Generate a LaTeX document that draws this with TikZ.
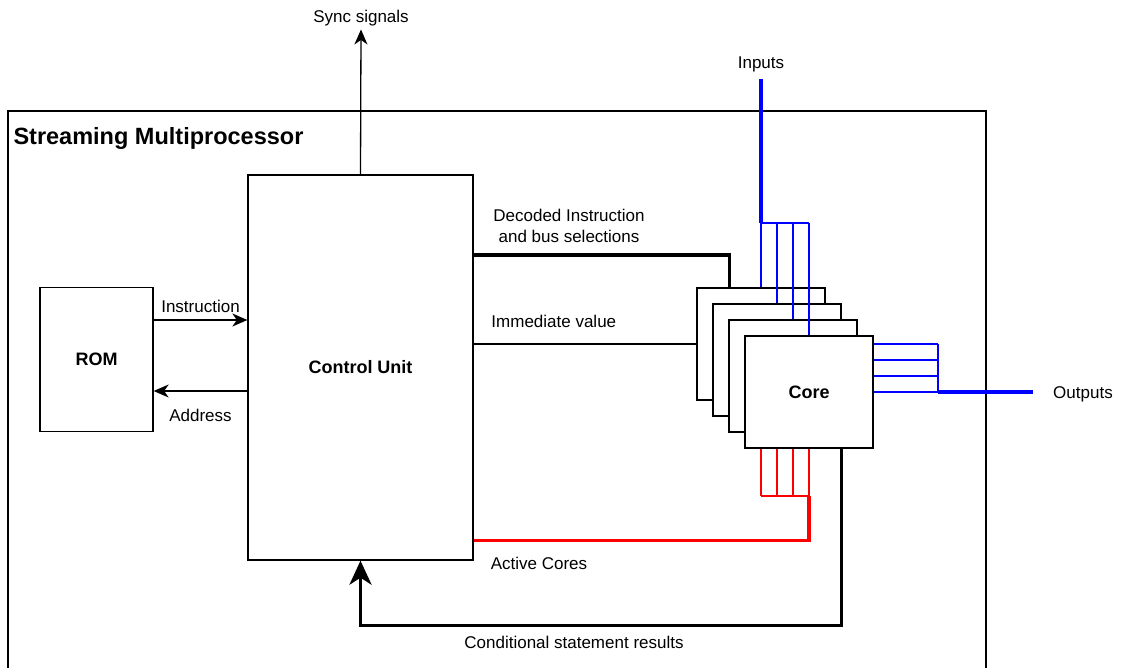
\documentclass[tikz,border=0pt]{standalone}
\usepackage{fontspec}
\setmainfont{Liberation Sans}
\usetikzlibrary{
    arrows.meta,
    positioning,
    calc
}

\begin{document}
\begin{tikzpicture}[
    x=1pt,
    y=-1pt,
    every node/.style={
        font=\fontsize{17pt}{21pt}\selectfont
    },
    block/.style={
        draw=black,
        line width=1.3pt,
        fill=white,
        font=\fontsize{18pt}{22pt}\selectfont\bfseries
    },
    corebox/.style={
        block,
        minimum width=128pt,
        minimum height=112pt
    },
    thinwire/.style={
        line width=1.3pt
    },
    ctrlwire/.style={
        line width=3.5pt
    },
    sigarrow/.style={
        thinwire,
        -{Stealth[length=15pt,width=13pt,inset=4.5pt]}
    },
    bluewire/.style={
        blue,
        line width=1.3pt
    },
    redwire/.style={
        red,
        line width=1.3pt
    }
]

    \useasboundingbox (0,0) rectangle (1121,667);
    \clip (0,0) rectangle (1121,667);

    % Streaming multiprocessor frame
    \draw[thinwire] (8,111) rectangle (986,700);

    \node[
        anchor=west,
        font=\fontsize{23.5pt}{28pt}\selectfont\bfseries
    ] (title) at (10,138)
        {Streaming Multiprocessor};

    % Main blocks
    \node[
        block,
        minimum width=225pt,
        minimum height=385pt
    ] (cu) at (360.5,367.5)
        {Control Unit};

    \node[
        block,
        minimum width=113pt,
        minimum height=144pt
    ] (rom) at (96.5,359.5)
        {ROM};

    % Outer labels
    \node (sync) at (361,18) {Sync signals};
    \node (inlbl) at (761,64) {Inputs};
    \node (outlbl) at (1083,394) {Outputs};

    % Bus junctions
    \coordinate (inbus) at (761,223);
    \coordinate (actbus) at (809,496);
    \coordinate (outbus) at (938,392);

    % Stacked cores with their bus wires
    \foreach \i in {1,...,4} {
        \node[corebox] (core\i) at ({745+16*\i},{328+16*\i})
            {\ifnum\i=4 Core\fi};
        \draw[bluewire] (core\i.north) -- (core\i.north |- inbus);
        \draw[redwire] (core\i.south) -- (core\i.south |- actbus);
        \draw[bluewire] (core\i.east) -- (core\i.east -| outbus);
    }

    % Input bus
    \draw[bluewire] (core1.north |- inbus) -- (core4.north |- inbus);
    \draw[
        blue,
        line width=4pt,
        shorten <=4pt
    ]
        (inlbl.south) -- (inbus);

    % Output bus
    \draw[bluewire] (outbus |- core1.east) -- (outbus |- core4.east);
    \draw[
        blue,
        line width=4pt
    ]
        (outbus |- core4.east)
        -- ([xshift=-17pt]outlbl.west |- core4.east);

    % ROM <-> control unit
    \draw[sigarrow]
        (rom.east |- 0,320) -- (cu.west |- 0,320)
        node[midway, above=3pt] (instrlbl) {Instruction};

    \draw[sigarrow]
        (cu.west |- 0,391) -- (rom.east |- 0,391)
        node[midway, below=14pt] (addrlbl) {Address};

    \draw[sigarrow]
        (cu.north) -- (sync.south);

    % Control unit -> cores
    \draw[ctrlwire]
        (cu.east |- 0,255)
        -| ($(core1.north west)+(33,0)$);

    \node[
        align=center
    ] (declbl) at (569,226)
        {Decoded Instruction\\and bus selections};

    \draw[thinwire]
        (cu.east |- core1.west) -- (core1.west)
        node[pos=0.36, above=12pt] (immlbl) {Immediate value};

    % Active cores
    \draw[redwire] (core1.south |- actbus) -- (core4.south |- actbus);
    \draw[
        red,
        line width=3.5pt
    ]
        (core4.south |- actbus)
        |- ($(cu.south east)+(0,-20)$);

    \node (actlbl) at (539,563) {Active Cores};

    % Conditional results back to control unit
    \draw[
        ctrlwire,
        -{Stealth[length=24pt,width=22pt,inset=7pt]}
    ]
        ($(core4.south east)+(-32,0)$)
        -- ++(0,177)
        -| (cu.south);

    \node (condlbl) at (574,642) {Conditional statement results};

\end{tikzpicture}
\end{document}
